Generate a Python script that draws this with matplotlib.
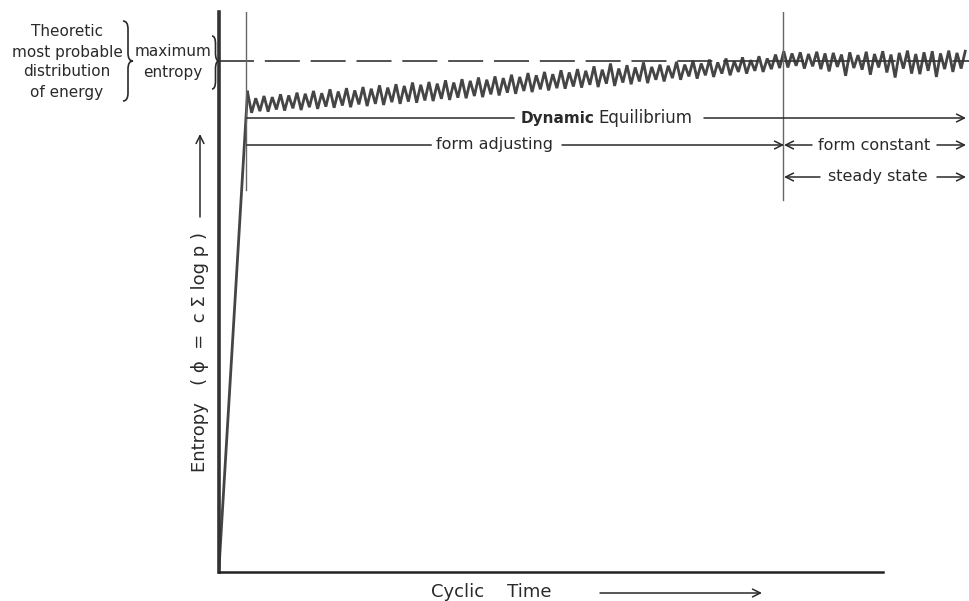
import numpy as np
import matplotlib
matplotlib.use("Agg")
import matplotlib.pyplot as plt
import matplotlib.transforms as mtransforms
from matplotlib.path import Path
from matplotlib.patches import PathPatch
from matplotlib.lines import Line2D

# ---------------- data ----------------
rise_time = [0.0, 3.8]
rise_entropy = [0.7, 85.7]
osc_start = 3.8
osc_step = 0.55
osc_entropy = [
    85.7, 82.0, 84.6, 82.3, 85.0, 82.2, 84.8, 82.6, 85.3, 82.4,
    85.1, 82.8, 85.6, 82.5, 85.4, 83.0, 85.9, 82.7, 85.5, 83.1,
    86.2, 82.9, 85.8, 83.3, 86.4, 83.0, 86.0, 83.5, 86.6, 83.2,
    86.3, 83.6, 86.9, 83.4, 86.5, 83.9, 87.1, 83.6, 86.8, 84.0,
    87.4, 83.8, 87.0, 84.2, 87.5, 84.1, 87.2, 84.5, 87.8, 84.3,
    87.4, 84.7, 88.0, 84.6, 87.7, 85.0, 88.3, 84.8, 87.9, 85.3,
    88.5, 85.1, 88.2, 85.6, 88.8, 85.4, 88.4, 85.9, 89.1, 85.7,
    88.7, 86.2, 89.3, 86.0, 88.9, 86.4, 89.6, 86.3, 89.2, 86.7,
    89.8, 86.5, 89.5, 87.0, 90.3, 86.6, 89.7, 87.2, 90.8, 86.8,
    89.9, 87.4, 90.5, 87.1, 90.1, 87.6, 91.0, 87.3, 90.2, 87.9,
    90.6, 87.6, 90.4, 88.2, 91.1, 87.9, 90.6, 88.5, 91.3, 88.1,
    90.8, 88.7, 91.5, 88.4, 91.0, 89.0, 91.7, 88.7, 91.2, 89.3,
    91.9, 89.0, 91.4, 89.5, 92.1, 89.3, 91.7, 89.8, 92.4, 90.0,
    93.0, 90.1, 92.6, 90.4, 92.8, 89.9, 92.5, 90.3, 92.9, 89.8,
    92.6, 89.4, 92.7, 90.2, 92.4, 88.6, 92.8, 90.0, 92.3, 89.7,
    92.9, 88.8, 92.5, 90.1, 93.0, 89.2, 92.4, 88.3, 92.7, 89.9,
    93.1, 89.0, 92.5, 88.9, 92.8, 89.5, 93.0, 88.4, 92.6, 89.8,
    93.1, 89.3, 92.7, 89.9, 93.0,
]
max_entropy = 91.25
t_equilibrium = 3.6
t_steady = 75.2
x_axis_end = 88.5

left_labels = ["Theoretic", "most probable", "distribution", "of energy"]
mid_labels = ["maximum", "entropy"]

# ---------------- figure ----------------
W, H = 970, 601
fig = plt.figure(figsize=(W / 100, H / 100), dpi=100)
fig.patch.set_facecolor("white")
X0, Y0, X1, Y1 = 219, 572, 969, 12
ax = fig.add_axes([X0 / W, 1 - Y0 / H, (X1 - X0) / W, (Y0 - Y1) / H])
ax.set_xlim(0, 100)
ax.set_ylim(0, 100)
ax.set_xticks([])
ax.set_yticks([])
for s in ["top", "right"]:
    ax.spines[s].set_visible(False)
ax.spines["left"].set_linewidth(2.6)
ax.spines["left"].set_color("#333333")
ax.spines["bottom"].set_linewidth(1.8)
ax.spines["bottom"].set_color("#222222")
ax.spines["bottom"].set_bounds(0, x_axis_end)
ax.patch.set_alpha(0)

ink = "#2a2a2a"
curve_col = "#454545"

# curve
osc_time = osc_start + osc_step * np.arange(len(osc_entropy))
ax.plot(rise_time, rise_entropy, color=curve_col, lw=2.0, solid_joinstyle="miter")
ax.plot(osc_time, osc_entropy, color=curve_col, lw=2.0, solid_joinstyle="miter")

# reference lines
ax.axhline(max_entropy, color="#333333", lw=1.2, dashes=(21, 6.5))
ax.axvline(t_equilibrium, ymin=0.682, ymax=1.0, color="#666666", lw=1.0)
ax.axvline(t_steady, ymin=0.665, ymax=1.0, color="#666666", lw=1.0)

# pixel transform (y down) for annotations
PX = mtransforms.Affine2D().scale(1 / W, -1 / H).translate(0, 1) + fig.transFigure

FS = 11.5
def txt(x, y, s, **kw):
    kw.setdefault("fontsize", FS)
    kw.setdefault("color", ink)
    kw.setdefault("va", "center")
    fig.text(x, y, s, transform=PX, **kw)

def hline(x0, x1, y, lw=1.1):
    fig.add_artist(Line2D([x0, x1], [y, y], transform=PX, color=ink, lw=lw))

def arrow(xf, xt, yf, yt, lw=1.1):
    ax.annotate("", xy=(xt, yt), xytext=(xf, yf), xycoords=PX, textcoords=PX,
                annotation_clip=False,
                arrowprops=dict(arrowstyle="->", lw=lw, color=ink,
                                shrinkA=0, shrinkB=0, mutation_scale=14))

# left labels
for lab, y in zip(left_labels, [31, 53, 72, 92]):
    txt(67, y, lab, ha="center", fontsize=11)
for lab, y in zip(mid_labels, [51, 72]):
    txt(173, y, lab, ha="center", fontsize=11)

def brace(x0, top, bot, mid, w):
    r = 8
    xm = x0 + w / 2
    verts = [(x0, top), (xm, top), (xm, top + r),
             (xm, mid - r), (xm, mid), (x0 + w, mid),
             (xm, mid), (xm, mid + r),
             (xm, bot - r), (xm, bot), (x0, bot)]
    codes = [Path.MOVETO, Path.CURVE3, Path.CURVE3,
             Path.LINETO, Path.CURVE3, Path.CURVE3,
             Path.CURVE3, Path.CURVE3,
             Path.LINETO, Path.CURVE3, Path.CURVE3]
    fig.add_artist(PathPatch(Path(verts, codes), transform=PX, fill=False,
                             ec=ink, lw=1.2))

brace(123, 21, 101, 61, 10)
brace(212, 36, 89, 61, 7)

# Dynamic Equilibrium
hline(247, 514, 118)
txt(521, 118, "Dynamic", ha="left", fontweight="bold", fontsize=11)
txt(598, 118, "Equilibrium", ha="left", fontsize=12)
arrow(704, 966, 118, 118)

# form adjusting
hline(247, 431, 145)
txt(436, 145, "form adjusting", ha="left")
arrow(562, 784, 145, 145)

# form constant
arrow(812, 784, 145, 145)
txt(874, 145, "form constant", ha="center")
arrow(937, 966, 145, 145)

# steady state
arrow(820, 784, 177, 177)
txt(878, 177, "steady state", ha="center")
arrow(937, 966, 177, 177)

# y label
txt(200, 352, "Entropy   ( ϕ  =  c Σ log p )", ha="center", rotation=90, fontsize=13)
arrow(200, 200, 217, 134)

# x label
txt(491, 592, "Cyclic    Time", ha="center", fontsize=13)
arrow(600, 762, 593, 593)

fig.savefig("out.png", dpi=100, facecolor="white")
